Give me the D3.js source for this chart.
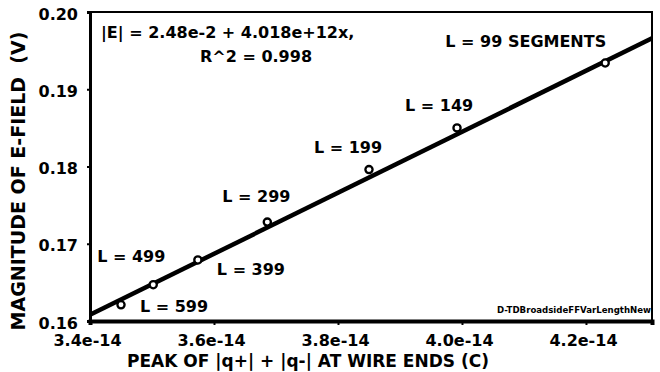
<!DOCTYPE html>
<html>
<head>
<meta charset="utf-8">
<script src="https://cdn.jsdelivr.net/npm/d3@7"></script>
<style>
  html, body { margin: 0; padding: 0; background: #fff; }
  svg { display: block; font-family: "DejaVu Sans", sans-serif; font-weight: bold; }
  .tick-label { font-size: 16px; fill: #000; }
  .note { font-size: 16px; fill: #000; }
</style>
</head>
<body>
<div id="chart"></div>
<script>
const WIDTH = 660;
const HEIGHT = 372;

// values
const segmentLabels = ["L = 599", "L = 499", "L = 399", "L = 299", "L = 199", "L = 149", "L = 99 SEGMENTS"];
const peakCharge = [3.45e-14, 3.502e-14, 3.574e-14, 3.686e-14, 3.85e-14, 3.992e-14, 4.231e-14];
const eFieldMag = [0.1621, 0.1647, 0.1679, 0.1728, 0.1796, 0.185, 0.1934];

const fitCharge = [3.4e-14, 4.3065e-14];
const fitField = [0.1608, 0.1966];

const xTicks = [3.4e-14, 3.6e-14, 3.8e-14, 4.0e-14, 4.2e-14];
const xTickLabels = ["3.4e-14", "3.6e-14", "3.8e-14", "4.0e-14", "4.2e-14"];
const yTicks = [0.16, 0.17, 0.18, 0.19, 0.2];
const yTickLabels = ["0.16", "0.17", "0.18", "0.19", "0.20"];

const fitText = ["|E| = 2.48e-2 + 4.018e+12x,", "R^2 = 0.998"];
const fileTag = "D-TDBroadsideFFVarLengthNew";

// label placement relative to each point (layout only)
const labelOffsets = [
  { dx: 19, dy: 7, anchor: "start" },
  { dx: -56, dy: -23, anchor: "start" },
  { dx: 19, dy: 15, anchor: "start" },
  { dx: -45, dy: -20, anchor: "start" },
  { dx: -55, dy: -17, anchor: "start" },
  { dx: -52, dy: -17, anchor: "start" },
  { dx: 1, dy: -16, anchor: "end" }
];

const margin = { left: 90, right: 8, top: 12, bottom: 51 };
const plotW = WIDTH - margin.left - margin.right;
const plotH = HEIGHT - margin.top - margin.bottom;

const svg = d3.select("#chart")
  .append("svg")
  .attr("width", WIDTH)
  .attr("height", HEIGHT);

const x = d3.scaleLinear().domain([3.4e-14, 4.3065e-14]).range([margin.left, margin.left + plotW]);
const y = d3.scaleLinear().domain([0.16, 0.2]).range([margin.top + plotH, margin.top]);

// frame: thin top/right, heavy left/bottom
svg.append("rect")
  .attr("x", margin.left)
  .attr("y", margin.top)
  .attr("width", plotW)
  .attr("height", plotH)
  .attr("fill", "none")
  .attr("stroke", "#000")
  .attr("stroke-width", 2);

const xAxis = svg.append("g")
  .attr("transform", `translate(0,${margin.top + plotH})`)
  .call(d3.axisBottom(x).tickValues(xTicks).tickFormat((d, i) => xTickLabels[i]).tickSize(4).tickPadding(10));

const yAxis = svg.append("g")
  .attr("transform", `translate(${margin.left},0)`)
  .call(d3.axisLeft(y).tickValues(yTicks).tickFormat((d, i) => yTickLabels[i]).tickSize(3).tickPadding(9));

xAxis.select(".domain").attr("stroke-width", 4);
yAxis.select(".domain").attr("stroke-width", 3);
[xAxis, yAxis].forEach((axis) => {
  axis.attr("font-family", null).attr("font-size", null);
  axis.selectAll(".tick line").attr("stroke-width", 2);
  axis.selectAll(".tick text").attr("class", "tick-label").attr("fill", "#000");
});
xAxis.selectAll(".tick text").attr("dx", -3);
yAxis.selectAll(".tick text").attr("dy", "0.45em");

// axis titles
svg.append("text")
  .attr("x", 308)
  .attr("y", 367)
  .attr("text-anchor", "middle")
  .attr("font-size", 17)
  .text("PEAK OF |q+| + |q-| AT WIRE ENDS (C)");

svg.append("text")
  .attr("transform", "translate(25,181) rotate(-90)")
  .attr("text-anchor", "middle")
  .attr("font-size", 19)
  .attr("xml:space", "preserve")
  .text("MAGNITUDE OF E-FIELD  (V)");

// fitted line
const fitPoints = fitCharge.map((c, i) => [c, fitField[i]]);
svg.append("path")
  .datum(fitPoints)
  .attr("fill", "none")
  .attr("stroke", "#000")
  .attr("stroke-width", 4.5)
  .attr("d", d3.line().x((d) => x(d[0])).y((d) => y(d[1])));

// data points
const points = peakCharge.map((c, i) => ({ c, e: eFieldMag[i], label: segmentLabels[i], off: labelOffsets[i] }));

svg.append("g")
  .selectAll("circle")
  .data(points)
  .join("circle")
  .attr("cx", (d) => x(d.c))
  .attr("cy", (d) => y(d.e))
  .attr("r", 3.6)
  .attr("fill", "#fff")
  .attr("stroke", "#000")
  .attr("stroke-width", 2.3);

svg.append("g")
  .selectAll("text")
  .data(points)
  .join("text")
  .attr("class", "note")
  .attr("x", (d) => x(d.c) + d.off.dx)
  .attr("y", (d) => y(d.e) + d.off.dy)
  .attr("text-anchor", (d) => d.off.anchor)
  .text((d) => d.label);

// regression note
svg.append("text")
  .attr("class", "note")
  .attr("x", 101)
  .attr("y", 38)
  .text(fitText[0]);

svg.append("text")
  .attr("class", "note")
  .attr("x", 200)
  .attr("y", 62)
  .text(fitText[1]);

svg.append("text")
  .attr("x", margin.left + plotW - 1)
  .attr("y", margin.top + plotH - 8)
  .attr("text-anchor", "end")
  .attr("font-size", 8.6)
  .text(fileTag);
</script>
</body>
</html>
